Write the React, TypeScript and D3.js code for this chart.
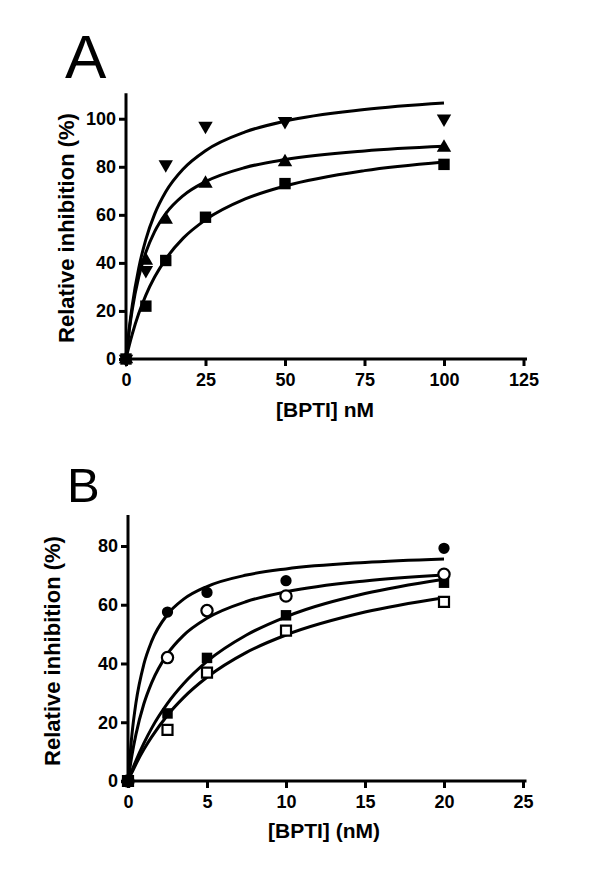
import { useEffect, useRef } from 'react';
import * as d3 from 'd3';

// Panel A: measured points
const concA = [0, 6.25, 12.5, 25, 50, 100];
const invTriA = [0, 37, 81, 97, 99, 100];
const triA = [0, 41, 58, 73, 82, 88];
const sqA = [0, 22, 41, 59, 73, 81];

// Panel A: fitted curves
const fitXA = [0, 0.5, 1, 2, 4, 6.25, 9, 12.5, 18, 25, 37.5, 50, 75, 100];
const fitTopA = [0, 6.6, 12.5, 22.6, 37.8, 49.8, 60.3, 69.6, 79.1, 86.7, 94.5, 99.0, 103.8, 106.5];
const fitMidA = [0, 6.2, 11.7, 20.8, 34.2, 44.4, 53.0, 60.5, 68.0, 73.8, 79.7, 83.0, 86.6, 88.5];
const fitBotA = [0, 2.9, 5.6, 10.5, 18.9, 26.6, 34.1, 41.6, 50.3, 57.9, 66.6, 72.0, 78.4, 82.0];

const xTicksA = [0, 25, 50, 75, 100, 125];
const yTicksA = [0, 20, 40, 60, 80, 100];

// Panel B: measured points
const concB = [0, 2.5, 5, 10, 20];
const filledCircB = [0, 57.5, 64.2, 68.2, 79.2];
const openCircB = [0, 42.0, 58.0, 63.0, 70.4];
const filledSqB = [0, 23.0, 41.9, 56.4, 67.5];
const openSqB = [0, 17.4, 36.9, 51.2, 61.0];

// Panel B: fitted curves
const fitXB = [0, 0.25, 0.5, 1, 1.5, 2.5, 3.5, 5, 7.5, 10, 15, 20];
const fit1B = [0, 15.9, 26.5, 39.7, 47.6, 56.7, 61.8, 66.2, 70.1, 72.2, 74.4, 75.6];
const fit2B = [0, 8.8, 15.8, 26.2, 33.5, 43.3, 49.5, 55.4, 61.1, 64.4, 68.1, 70.1];
const fit3B = [0, 3.6, 6.9, 12.8, 18.0, 26.4, 33.0, 40.7, 49.7, 55.9, 63.8, 68.7];
const fit4B = [0, 2.9, 5.7, 10.7, 15.0, 22.4, 28.3, 35.3, 43.8, 49.7, 57.5, 62.4];

const xTicksB = [0, 5, 10, 15, 20, 25];
const yTicksB = [0, 20, 40, 60, 80];

const FONT = "'Liberation Sans', Arial, sans-serif";

type Marker = { ys: number[]; shape: string; open: boolean };

function drawPanel(svg: any, cfg: any) {
  const { x, y, xTicks, yTicks, conc, markers, fitX, fits, letter, letterPos, letterSize, xLabel, xLabelPos, yLabelPos } = cfg;
  const g = svg.append('g');

  // curves
  const line = d3.line<number>()
    .x((d, i) => x(fitX[i]))
    .y(d => y(d))
    .curve(d3.curveMonotoneX);
  fits.forEach((f: number[]) => {
    g.append('path')
      .datum(f)
      .attr('fill', 'none')
      .attr('stroke', '#000')
      .attr('stroke-width', 3)
      .attr('d', line);
  });

  // axes
  const xAxis = g.append('g')
    .attr('transform', `translate(0,${y(0)})`)
    .call(d3.axisBottom(x).tickValues(xTicks).tickSize(7).tickSizeOuter(0).tickPadding(7).tickFormat(d3.format('d')));
  const yAxis = g.append('g')
    .attr('transform', `translate(${x(0)},0)`)
    .call(d3.axisLeft(y).tickValues(yTicks).tickSize(7).tickSizeOuter(0).tickPadding(3).tickFormat(d3.format('d')));
  [xAxis, yAxis].forEach(a => {
    a.attr('font-family', FONT).attr('font-size', 18).attr('font-weight', 'bold');
    a.select('.domain').attr('stroke-width', 3).attr('stroke-linecap', 'square');
    a.selectAll('.tick line').attr('stroke-width', 3);
  });
  // extend axis lines like the original
  xAxis.select('.domain').attr('d', `M${x(0) - 3},0H${x.range()[1] + 2}`);
  yAxis.select('.domain').attr('d', `M0,${y.range()[1]}V${y(0) + 3}`);

  // markers
  markers.forEach((m: Marker) => {
    let type = d3.symbolSquare;
    let size = 130;
    let rot = 0;
    if (m.shape === 'tri') { type = d3.symbolTriangle; size = 90; }
    if (m.shape === 'invtri') { type = d3.symbolTriangle; size = 90; rot = 180; }
    if (m.shape === 'circle') { type = d3.symbolCircle; size = 100; }
    if (m.shape === 'square' && m.open) size = 100;
    if (m.shape === 'square' && !m.open && cfg.small) size = 110;
    const sym = d3.symbol().type(type).size(size);
    g.selectAll(null)
      .data(m.ys)
      .enter().append('path')
      .attr('d', sym)
      .attr('transform', (d: number, i: number) => `translate(${x(conc[i])},${y(d)}) rotate(${rot})`)
      .attr('fill', m.open ? '#fff' : '#000')
      .attr('stroke', '#000')
      .attr('stroke-width', m.open ? 2.2 : 0);
  });

  // labels
  svg.append('text')
    .attr('x', letterPos[0])
    .attr('y', letterPos[1])
    .attr('font-family', FONT)
    .attr('font-size', letterSize)
    .text(letter);

  svg.append('text')
    .attr('x', xLabelPos[0])
    .attr('y', xLabelPos[1])
    .attr('text-anchor', 'middle')
    .attr('font-family', FONT)
    .attr('font-size', 21)
    .attr('font-weight', 'bold')
    .text(xLabel);

  svg.append('text')
    .attr('transform', `translate(${yLabelPos[0]},${yLabelPos[1]}) rotate(-90)`)
    .attr('text-anchor', 'middle')
    .attr('font-family', FONT)
    .attr('font-size', 22)
    .attr('font-weight', 'bold')
    .text('Relative inhibition (%)');
}

export default function App() {
  const svgRef = useRef<SVGSVGElement>(null);

  useEffect(() => {
    if (!svgRef.current) return;
    const svg = d3.select(svgRef.current);
    svg.selectAll('*').remove();

    const xA = d3.scaleLinear().domain([0, 125]).range([126, 523.5]);
    const yA = d3.scaleLinear().domain([0, 110]).range([359, 94.7]);

    drawPanel(svg, {
      x: xA, y: yA, xTicks: xTicksA, yTicks: yTicksA, conc: concA,
      markers: [
        { ys: sqA, shape: 'square', open: false },
        { ys: triA, shape: 'tri', open: false },
        { ys: invTriA, shape: 'invtri', open: false },
      ],
      fitX: fitXA, fits: [fitTopA, fitMidA, fitBotA],
      letter: 'A', letterPos: [65, 78], letterSize: 62,
      xLabel: '[BPTI] nM', xLabelPos: [325, 417],
      yLabelPos: [74, 228],
    });

    const xB = d3.scaleLinear().domain([0, 25]).range([128, 523]);
    const yB = d3.scaleLinear().domain([0, 90]).range([781, 516.6]);

    drawPanel(svg, {
      x: xB, y: yB, xTicks: xTicksB, yTicks: yTicksB, conc: concB, small: true,
      markers: [
        { ys: openSqB, shape: 'square', open: true },
        { ys: filledSqB, shape: 'square', open: false },
        { ys: openCircB, shape: 'circle', open: true },
        { ys: filledCircB, shape: 'circle', open: false },
      ],
      fitX: fitXB, fits: [fit1B, fit2B, fit3B, fit4B],
      letter: 'B', letterPos: [67, 502], letterSize: 49,
      xLabel: '[BPTI] (nM)', xLabelPos: [324, 838],
      yLabelPos: [60, 651],
    });
  }, []);

  return (
    <div style={{ position: 'absolute', left: 0, top: 0 }}>
      <svg ref={svgRef} width={600} height={889} style={{ display: 'block', background: '#fff' }} />
    </div>
  );
}
